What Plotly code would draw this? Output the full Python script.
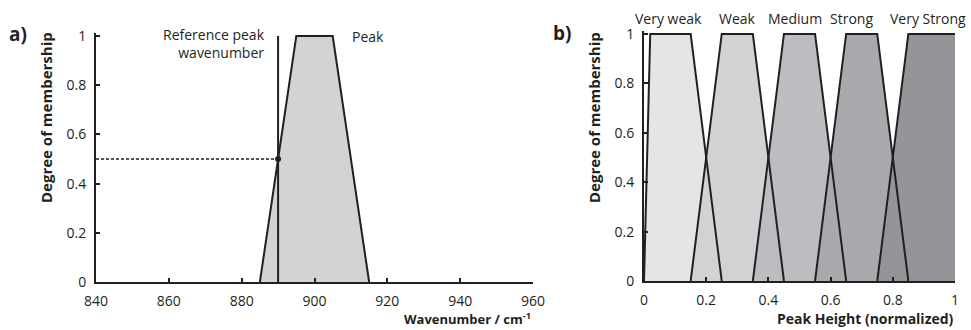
import plotly.graph_objects as go

W, H = 971, 330
FONT = "Open Sans"
INK = "#231f20"

# ---- panel a: wavenumber membership function ----
peak_x = [885, 895, 905, 915]          # trapezoid corners (cm-1)
peak_y = [0, 1, 1, 0]
ref_wavenumber = 890
ref_membership = 0.5
a_xticks = [840, 860, 880, 900, 920, 940, 960]
a_yticks = [0, 0.2, 0.4, 0.6, 0.8, 1]
a_yticklabels = ["0", "0.2", "0.4", "0.6", "0.8", "1"]

# ---- panel b: peak height membership functions ----
classes = ["Very weak", "Weak", "Medium", "Strong", "Very Strong"]
class_x = [
    [0.0, 0.02, 0.15, 0.25],
    [0.15, 0.25, 0.35, 0.45],
    [0.35, 0.45, 0.55, 0.65],
    [0.55, 0.65, 0.75, 0.85],
    [0.75, 0.85, 1.0, 1.0],
]
class_y = [0, 1, 1, 0]
class_fill = ["#e4e5e7", "#d1d2d4", "#bcbdc0", "#a7a9ac", "#939598"]
class_label_x = [0.08, 0.30, 0.487, 0.668, 0.913]
b_xticks = [0, 0.2, 0.4, 0.6, 0.8, 1]
b_xticklabels = ["0", "0.2", "0.4", "0.6", "0.8", "1"]


def px(x):
    return x / W


def py(y):
    return 1 - y / H


YTOP = 1.012

fig = go.Figure()

# panel a polygon
fig.add_trace(go.Scatter(x=peak_x + [peak_x[0]], y=peak_y + [peak_y[0]], fill="toself",
                         fillcolor="#d1d3d4", line=dict(width=0), mode="lines",
                         hoverinfo="skip", xaxis="x", yaxis="y"))
fig.add_trace(go.Scatter(x=peak_x, y=peak_y, mode="lines",
                         line=dict(color=INK, width=2), xaxis="x", yaxis="y"))
# reference wavenumber line and its membership
fig.add_trace(go.Scatter(x=[ref_wavenumber, ref_wavenumber], y=[0, 1], mode="lines",
                         line=dict(color=INK, width=2), xaxis="x", yaxis="y"))
fig.add_trace(go.Scatter(x=[a_xticks[0], ref_wavenumber], y=[ref_membership, ref_membership],
                         mode="lines", line=dict(color=INK, width=1.3, dash="3px,2px"),
                         xaxis="x", yaxis="y"))
fig.add_trace(go.Scatter(x=[ref_wavenumber], y=[ref_membership], mode="markers",
                         marker=dict(color=INK, size=6), xaxis="x", yaxis="y"))

# panel b fills first, outlines on top
for xs, col in zip(class_x, class_fill):
    fig.add_trace(go.Scatter(x=xs + [xs[0]], y=class_y + [class_y[0]], fill="toself",
                             fillcolor=col, line=dict(width=0), mode="lines",
                             hoverinfo="skip", xaxis="x2", yaxis="y2"))
for i, xs in enumerate(class_x):
    if i == len(class_x) - 1:
        ox, oy = xs[:3], class_y[:3]
    else:
        ox, oy = xs, class_y
    fig.add_trace(go.Scatter(x=ox, y=oy, mode="lines", line=dict(color=INK, width=2),
                             xaxis="x2", yaxis="y2"))

axis_common = dict(showline=True, linecolor=INK, linewidth=2, ticks="inside",
                   ticklen=4, tickwidth=1.5, tickcolor=INK, showgrid=False,
                   zeroline=False, tickfont=dict(family=FONT, size=14, color=INK),
                   fixedrange=True, automargin=False)

fig.update_layout(
    width=W, height=H, autosize=False,
    margin=dict(l=0, r=0, t=0, b=0, pad=0, autoexpand=False),
    paper_bgcolor="white", plot_bgcolor="white", showlegend=False,
    xaxis=dict(domain=[px(96), px(533)], range=[840, 960], tickvals=a_xticks,
               anchor="y", ticklabelstandoff=5, **axis_common),
    yaxis=dict(domain=[py(282), py(282 - YTOP * 246)], range=[0, YTOP],
               tickvals=a_yticks, ticktext=a_yticklabels, anchor="x",
               ticklabelstandoff=5, **axis_common),
    xaxis2=dict(domain=[px(644), px(955)], range=[0, 1], tickvals=b_xticks,
                ticktext=b_xticklabels, anchor="y2", ticklabelstandoff=5, **axis_common),
    yaxis2=dict(domain=[py(281), py(281 - YTOP * 247)], range=[0, YTOP],
                tickvals=a_yticks, ticktext=a_yticklabels, anchor="x2",
                ticklabelstandoff=5, **axis_common),
)

ann = []


def note(text, x, y, size=14, bold=False, xanchor="center", yanchor="middle", angle=0):
    t = f"<b>{text}</b>" if bold else text
    ann.append(dict(text=t, x=x, y=y, xref="paper", yref="paper", xanchor=xanchor,
                    yanchor=yanchor, showarrow=False, textangle=angle,
                    font=dict(family=FONT, size=size, color=INK)))


note("a)", px(18), py(34), size=19, bold=True)
note("b)", px(562), py(33), size=19, bold=True)
note("Degree of membership", px(46), py(118), size=15, bold=True, angle=-90)
note("Degree of membership", px(594), py(118), size=15, bold=True, angle=-90)
note("Wavenumber / cm<sup>-1</sup>", px(533), 0, size=13, bold=True,
     xanchor="right", yanchor="bottom")
note("Peak Height (normalized)", px(956), 0, size=14, bold=True,
     xanchor="right", yanchor="bottom")
ann.append(dict(text="Reference peak<br>wavenumber", x=px(267), y=py(44), xref="paper",
                yref="paper", xanchor="right", yanchor="middle", align="right",
                showarrow=False, font=dict(family=FONT, size=14, color=INK)))
note("Peak", px(350), py(36), xanchor="left")
for name, lx in zip(classes, class_label_x):
    ann.append(dict(text=name, x=lx, y=py(18), xref="x2", yref="paper", xanchor="center",
                    yanchor="middle", showarrow=False,
                    font=dict(family=FONT, size=14, color=INK)))

fig.update_layout(annotations=ann)
fig.write_html("out.html")
